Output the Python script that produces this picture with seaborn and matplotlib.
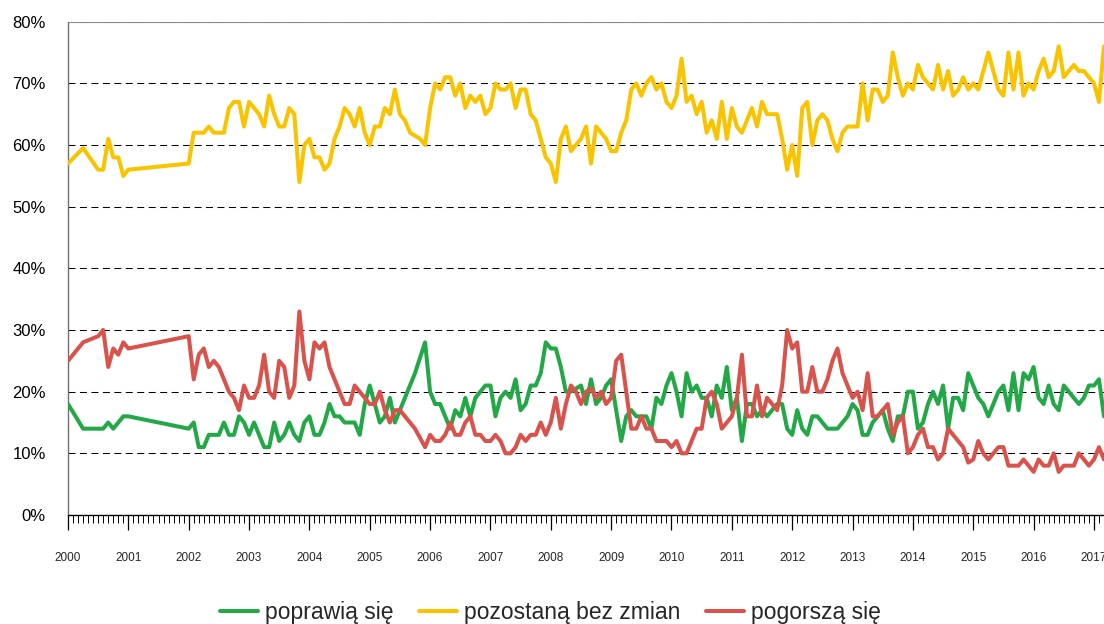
import pandas as pd
import seaborn as sns
import matplotlib.pyplot as plt
from matplotlib.ticker import MultipleLocator, FuncFormatter

# months counted from January 2000 (no surveys during most of 2001)
months = [0, 3, 6, 7, 8, 9, 10, 11, 12] + list(range(24, 207))

better = [18, 14, 14, 14, 15, 14, 15, 16, 16,
          14, 15, 11, 11, 13, 13, 13, 15, 13, 13, 16, 15,   # 2002
          13, 15, 13, 11, 11, 15, 12, 13, 15, 13, 12, 15,   # 2003
          16, 13, 13, 15, 18, 16, 16, 15, 15, 15, 13, 18,   # 2004
          21, 18, 15, 16, 19, 15, 17, 19, 21, 23, 25.5, 28, # 2005
          20, 18, 18, 16, 14, 17, 16, 19, 16, 19, 20, 21,   # 2006
          21, 16, 19, 20, 19, 22, 17, 18, 21, 21, 23, 28,   # 2007
          27, 27, 24, 20, 20, 20.5, 21, 18, 22, 18, 19, 21, # 2008
          22, 17, 12, 16, 17, 16, 16, 16, 14, 19, 18, 21,   # 2009
          23, 20, 16, 23, 20, 21, 19, 19, 16, 21, 19, 24,   # 2010
          17, 19, 12, 18, 18, 16, 17, 16, 17, 18, 18, 14,   # 2011
          13, 17, 14, 13, 16, 16, 15, 14, 14, 14, 15, 16,   # 2012
          18, 17, 13, 13, 15, 16, 17, 14, 12, 16, 16, 20,   # 2013
          20, 14, 15, 18, 20, 18, 21, 14, 19, 19, 17, 23,   # 2014
          21, 19, 18, 16, 18, 20, 21, 17, 23, 17, 23, 22,   # 2015
          24, 19, 18, 21, 18, 17, 21, 20, 19, 18, 19, 21,   # 2016
          21, 22, 16]                                       # 2017

same = [57, 59.5, 56, 56, 61, 58, 58, 55, 56,
        57, 62, 62, 62, 63, 62, 62, 62, 66, 67, 67, 63,
        67, 66, 65, 63, 68, 65, 63, 63, 66, 65, 54, 60,
        61, 58, 58, 56, 57, 61, 63, 66, 65, 63, 66, 62,
        60, 63, 63, 66, 65, 69, 65, 64, 62, 61.5, 61, 60,
        66, 70, 69, 71, 71, 68, 70, 66, 68, 67, 68, 65,
        66, 70, 69, 69, 70, 66, 69, 69, 65, 64, 61, 58,
        57, 54, 61, 63, 59, 60, 61, 63, 57, 63, 62, 61,
        59, 59, 62, 64, 69, 70, 68, 70, 71, 69, 70, 67,
        66, 68, 74, 67, 68, 65, 67, 62, 64, 61, 67, 61,
        66, 63, 62, 64, 66, 63, 67, 65, 65, 65, 61, 56,
        60, 55, 66, 67, 60, 64, 65, 64, 61, 59, 62, 63,
        63, 63, 70, 64, 69, 69, 67, 68, 75, 71, 68, 70,
        69, 73, 71, 70, 69, 73, 69, 72, 68, 69, 71, 69,
        70, 69, 72, 75, 72, 69, 68, 75, 69, 75, 68, 70,
        69, 72, 74, 71, 72, 76, 71, 72, 73, 72, 72, 71,
        70, 67, 76]

worse = [25, 28, 29, 30, 24, 27, 26, 28, 27,
         29, 22, 26, 27, 24, 25, 24, 22, 20, 19, 17, 21,
         19, 19, 21, 26, 20, 19, 25, 24, 19, 21, 33, 25,
         22, 28, 27, 28, 24, 22, 20, 18, 18, 21, 20, 19,
         18, 18, 20, 17, 15, 17, 17, 16, 15, 14, 12.5, 11,
         13, 12, 12, 13, 15, 13, 13, 15, 16, 13, 13, 12,
         12, 13, 12, 10, 10, 11, 13, 12, 13, 13, 15, 13,
         15, 19, 14, 18, 21, 20, 18, 20, 20.5, 19, 20, 18,
         19, 25, 26, 20, 14, 14, 16, 14, 14, 12, 12, 12,
         11, 12, 10, 10, 12, 14, 14, 19, 20, 18, 14, 15,
         16, 19, 26, 16, 16, 21, 16, 19, 18, 17, 21, 30,
         27, 28, 20, 20, 24, 20, 20, 22, 25, 27, 23, 21,
         19, 20, 17, 23, 16, 16, 17, 18, 13, 15, 16, 10,
         11, 13, 14, 11, 11, 9, 10, 14, 13, 12, 11, 8.5,
         9, 12, 10, 9, 10, 11, 11, 8, 8, 8, 9, 8,
         7, 9, 8, 8, 10, 7, 8, 8, 8, 10, 9, 8,
         9, 11, 9]

labels = ["poprawią się", "pozostaną bez zmian", "pogorszą się"]
colors = ["#22a846", "#fac300", "#d9534c"]
years = list(range(2000, 2018))

assert len(better) == len(same) == len(worse) == len(months)

dates = [2000 + m / 12 for m in months]
df = pd.concat([
    pd.DataFrame({"date": dates, "value": vals, "series": lab})
    for vals, lab in zip([better, same, worse], labels)
])

sns.set_style("white")
plt.rcParams["font.family"] = ["Liberation Sans", "DejaVu Sans"]

fig = plt.figure(figsize=(11.04, 6.24), dpi=100)
ax = fig.add_axes([68 / 1104, 1 - 515 / 624, 1036 / 1104, 493.3 / 624])

sns.lineplot(data=df, x="date", y="value", hue="series", hue_order=labels,
             palette=colors, estimator=None, linewidth=2.9, ax=ax, zorder=3)

ax.set_xlim(2000, 2000 + months[-1] / 12)
ax.set_ylim(0, 80)
ax.set_yticks(range(0, 81, 10))
ax.yaxis.set_major_formatter(FuncFormatter(lambda v, p: f"{int(v)}%"))
ax.set_xticks(years)
ax.set_xticklabels([str(y) for y in years])
ax.xaxis.set_minor_locator(MultipleLocator(1 / 12))
ax.set_xlabel("")
ax.set_ylabel("")

ax.grid(axis="y", color="black", linewidth=0.75, linestyle=(0, (6.7, 4.3)), zorder=1)
ax.set_axisbelow(True)

ax.tick_params(axis="y", length=0, pad=16, labelsize=12, labelcolor="black")
ax.tick_params(axis="x", which="major", length=11, width=0.9, color="black",
               direction="out", pad=15.5, labelsize=8.5, bottom=True)
ax.tick_params(axis="x", which="minor", length=5.5, width=0.7, color="black",
               direction="out", bottom=True)

ax.spines["right"].set_visible(False)
ax.spines["top"].set_color("#8c8c8c")
ax.spines["top"].set_linewidth(0.8)
ax.spines["left"].set_color("#707070")
ax.spines["left"].set_linewidth(1.0)
ax.spines["bottom"].set_color("black")
ax.spines["bottom"].set_linewidth(1.0)

handles, labs = ax.get_legend_handles_labels()
ax.get_legend().remove()
leg = fig.legend(handles, labs, loc="center", bbox_to_anchor=(0.4985, 0.018),
                 ncol=3, frameon=False, fontsize=16.5, handlelength=1.65,
                 handletextpad=0.3, columnspacing=1.12, borderpad=0)
for h in leg.legend_handles:
    h.set_linewidth(2.9)

fig.savefig("out.png", dpi=100)
